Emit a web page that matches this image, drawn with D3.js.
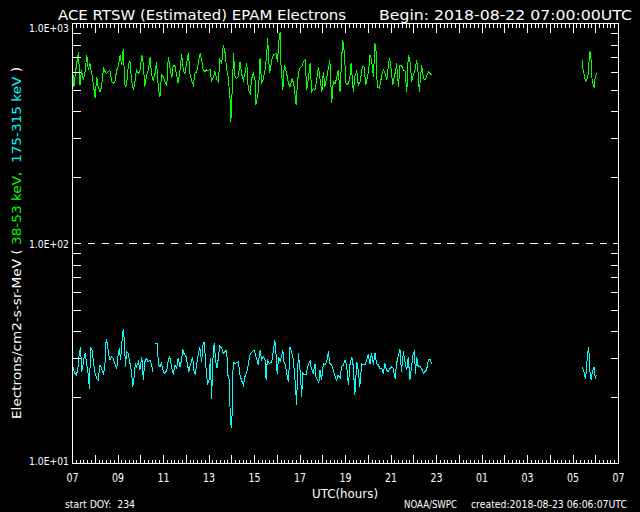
<!DOCTYPE html>
<html><head><meta charset="utf-8">
<script src="https://cdn.jsdelivr.net/npm/d3@7"></script>
<style>html,body{margin:0;padding:0;background:#000;}svg{display:block;}</style>
</head><body>
<svg id="chart" width="640" height="512"></svg>
<script>
// ---- data (time in minutes since 2018-08-22 07:00 UTC; null = gap) ----
const xTickValues = [0,120,240,360,480,600,720,840,960,1080,1200,1320,1440];
const xTickLabels = ["07","09","11","13","15","17","19","21","23","01","03","05","07"];
const yTickValues = [10,100,1000];
const yTickLabels = ["1.0E+01","1.0E+02","1.0E+03"];

const greenTime = [0,3,5,10,17,21,25,30,34,39,43,47,52,56,61,65,69,74,78,83,87,91,96,100,105,109,113,118,122,127,131,135,140,144,149,153,157,162,166,170,175,179,184,188,192,197,201,206,210,214,219,223,228,232,236,241,245,250,254,258,263,267,272,276,280,285,289,294,298,302,307,311,316,320,324,329,333,338,342,346,351,355,360,364,368,373,377,382,386,390,395,399,404,408,412,417,419,424,426,430,434,439,443,448,452,456,461,465,470,474,478,483,485,492,496,500,505,509,513,516,521,527,531,538,542,546,549,551,556,560,566,571,575,581,586,591,595,600,606,610,615,619,623,628,632,637,641,645,650,654,659,663,667,673,677,680,685,689,694,698,702,707,711,714,718,723,729,733,736,742,746,751,755,760,766,770,775,782,786,790,795,799,802,805,811,817,821,826,830,837,840,846,849,854,856,861,865,869,874,878,883,887,891,896,900,905,909,913,916,922,927,931,935,940,944,949,1000,1346,1348,1351,1354,1357,1362,1364,1366,1369,1372,1375,1377,1380,1384];
const greenFlux = [686,572,515,613,743,524,613,552,592,718,613,658,592,533,456,572,515,489,515,624,603,592,603,613,543,533,543,613,635,718,646,761,515,524,658,669,552,498,543,613,592,603,718,658,515,582,613,700,582,552,592,669,498,464,582,572,543,524,705,635,562,646,635,582,533,613,726,603,592,658,731,592,543,524,592,603,658,731,681,613,603,613,609,617,543,572,603,552,543,681,658,797,731,613,572,448,357,572,731,572,562,572,669,582,552,592,658,498,480,562,592,552,425,498,693,533,562,613,705,854,592,681,718,731,669,840,910,658,498,646,592,533,515,562,515,425,552,624,635,669,681,498,552,658,489,506,498,552,635,562,489,603,515,582,635,681,433,543,533,562,613,489,681,840,743,524,533,572,658,489,572,613,524,543,635,635,524,603,718,681,572,810,743,515,506,582,613,592,552,693,658,524,562,613,658,515,646,646,613,613,489,718,681,543,582,613,681,592,489,646,562,552,572,603,592,582,null,681,613,582,543,548,592,686,748,686,537,524,515,572,592];

const cyanTime = [0,3,8,12,17,19,23,25,28,32,35,39,42,46,49,53,56,60,65,69,74,78,83,87,90,93,97,100,105,109,113,118,122,125,128,132,135,138,141,144,148,153,157,160,163,167,170,175,179,184,188,192,197,201,206,210,213,216,220,225,228,232,236,241,245,250,254,258,263,267,272,276,280,285,289,292,295,301,304,308,311,316,318,322,325,329,333,337,342,345,348,351,355,358,361,365,368,373,375,380,383,387,390,395,399,403,408,411,415,417,420,423,425,430,434,439,443,447,452,456,461,465,468,471,476,480,484,489,491,496,500,505,509,512,515,520,527,531,535,538,541,545,549,552,556,559,563,566,571,575,579,584,586,590,592,597,601,606,608,612,617,623,628,630,636,641,643,648,651,654,658,663,667,672,676,680,685,689,694,698,702,707,711,716,720,724,729,733,738,742,746,751,755,759,764,768,773,777,781,786,790,795,799,803,808,812,817,821,825,830,834,839,843,847,852,856,861,865,869,874,878,883,887,891,896,900,903,906,909,913,918,922,927,931,935,940,944,949,1000,1346,1348,1351,1354,1356,1359,1362,1364,1367,1369,1372,1375,1377,1380,1383];
const cyanFlux = [30.5,27.0,25.6,25.2,28.0,31.6,33.7,26.1,27.0,30.5,31.6,28.0,26.1,21.7,33.9,32.7,29.5,26.1,24.3,23.9,28.0,27.0,25.2,28.4,36.6,35.1,31.1,29.5,30.5,30.0,28.4,27.0,31.6,33.3,29.5,36.3,40.6,36.3,27.5,32.2,31.6,28.4,26.1,22.3,23.9,28.4,27.5,28.9,26.5,30.5,24.0,28.9,30.0,28.9,29.5,28.0,26.1,null,34.9,35.1,28.0,27.5,28.4,26.1,25.6,26.5,29.5,30.5,27.0,25.6,28.0,27.0,30.0,27.5,29.5,33.0,31.6,30.5,28.4,26.1,27.5,29.5,30.5,26.1,25.2,28.4,31.1,33.7,28.9,34.1,35.7,31.6,24.7,23.1,23.5,30.0,19.7,33.9,34.5,28.4,27.0,31.6,34.1,33.3,31.6,32.2,32.7,25.2,23.9,17.2,14.4,17.5,28.9,28.4,28.7,28.9,25.2,23.9,22.7,24.7,26.1,28.0,30.5,31.6,32.2,32.7,31.1,28.9,28.0,32.7,29.5,30.5,29.5,23.9,29.5,28.4,28.9,32.7,36.3,31.6,25.6,30.5,28.9,30.5,32.7,28.9,28.0,25.6,23.5,33.9,32.2,29.5,26.5,21.9,18.4,31.6,27.0,20.1,26.1,25.2,25.2,28.0,29.3,27.5,25.6,28.4,24.7,23.9,23.1,26.5,23.9,28.4,28.0,28.9,32.2,28.4,28.0,26.5,24.7,23.9,25.2,24.3,27.5,28.0,29.5,28.0,22.7,28.0,30.5,27.5,20.4,28.9,26.5,22.3,28.4,28.0,28.0,29.5,31.1,28.4,31.8,28.0,31.8,28.4,28.0,27.0,27.0,25.6,28.4,26.5,26.1,27.0,27.5,27.0,24.3,28.4,31.1,33.0,26.1,32.2,28.9,26.5,30.5,23.9,28.0,31.6,32.2,25.6,30.5,27.5,27.5,27.0,25.6,26.1,26.5,29.5,29.7,28.4,null,27.3,26.8,25.8,24.3,25.7,30.5,33.7,31.1,24.3,24.1,25.7,26.8,27.5,24.3,25.2];

const titleLeft = "ACE RTSW (Estimated) EPAM Electrons";
const titleRight = "Begin: 2018-08-22 07:00:00UTC";
const xTitle = "UTC(hours)";
const footLeft = "start DOY:  234";
const footMid = "NOAA/SWPC";
const footRight = "created:2018-08-23 06:06:07UTC";
const GREEN = "#00ff00", CYAN = "#00ffff";

// ---- drawing ----
const svg = d3.select("#chart");
const FONT = "DejaVu Sans";
svg.append("rect").attr("width",640).attr("height",512).attr("fill","#000");

const x = d3.scaleLinear().domain([0,1440]).range([72,618]);
const y = d3.scaleLog().domain([10,1000]).range([463.3,23.3]);
const L = 72, R = 618, T = 23, B = 463;

// series
const line = d3.line()
  .defined(d => d[1] != null)
  .x(d => x(d[0])).y(d => y(d[1]));
function series(times, vals, col){
  const pts = times.map((t,i)=>[t, vals[i]]);
  svg.append("path").attr("d", line(pts)).attr("fill","none")
    .attr("stroke", col).attr("stroke-width",1).attr("shape-rendering","crispEdges");
}
series(greenTime, greenFlux, GREEN);
series(cyanTime, cyanFlux, CYAN);

// dashed reference line at 1.0E+02
svg.append("line").attr("x1",x(0)).attr("x2",x(1440))
  .attr("y1",Math.round(y(100))+0.5).attr("y2",Math.round(y(100))+0.5)
  .attr("stroke","#fff").attr("stroke-width",1).attr("stroke-dasharray","7.2 6.63")
  .attr("stroke-dashoffset",-2).attr("shape-rendering","crispEdges");

// axes (ticks pointing inward)
function styleAxis(g){
  g.select(".domain").remove();
  g.selectAll("line").attr("stroke","#fff").attr("shape-rendering","crispEdges");
  g.selectAll("text").remove();
}
const minorX = d3.range(0,1441,10).filter(m => m % 60 !== 0);
const majorX = d3.range(0,1441,60);
[[minorX,4],[majorX,9]].forEach(([vals,len])=>{
  svg.append("g").attr("transform",`translate(0,${T+0.5})`)
    .call(d3.axisTop(x).tickValues(vals).tickSizeInner(-len).tickSizeOuter(0)).call(styleAxis);
  svg.append("g").attr("transform",`translate(0,${B+0.5})`)
    .call(d3.axisBottom(x).tickValues(vals).tickSizeInner(-len).tickSizeOuter(0)).call(styleAxis);
});
const minorY = [];
[10,100].forEach(d => { for(let k=2;k<=9;k++) minorY.push(d*k); });
svg.append("g").attr("transform",`translate(${L+0.5},0)`)
  .call(d3.axisLeft(y).tickValues(minorY).tickSizeInner(-8).tickSizeOuter(0)).call(styleAxis);
svg.append("g").attr("transform",`translate(${R+0.5},0)`)
  .call(d3.axisRight(y).tickValues(minorY).tickSizeInner(-8).tickSizeOuter(0)).call(styleAxis);

// frame
svg.append("rect").attr("x",L+0.5).attr("y",T+0.5).attr("width",R-L).attr("height",B-T)
  .attr("fill","none").attr("stroke","#fff").attr("stroke-width",1).attr("shape-rendering","crispEdges");

// x tick labels
const xl = svg.append("g").attr("transform",`translate(0,${B})`)
  .call(d3.axisBottom(x).tickValues(xTickValues).tickFormat((d,i)=>xTickLabels[i]).tickSize(0).tickPadding(0));
xl.select(".domain").remove();
xl.selectAll("text").attr("y",19).attr("dy",null).attr("fill","#fff")
  .attr("font-family",FONT).attr("font-size",12.5)
  .attr("textLength",12).attr("lengthAdjust","spacingAndGlyphs");

// y tick labels
const yl = svg.append("g").attr("transform",`translate(${L},0)`)
  .call(d3.axisLeft(y).tickValues(yTickValues).tickFormat((d,i)=>yTickLabels[i]).tickSize(0).tickPadding(3));
yl.select(".domain").remove();
yl.selectAll("text").attr("fill","#fff").attr("font-family",FONT).attr("font-size",11)
  .attr("dy",null)
  .attr("y",d => { const p = y(d); return Math.min(Math.max(p+4.5, 31) , 464.5) - p; })
  .attr("textLength",40).attr("lengthAdjust","spacingAndGlyphs");

// titles
function txt(s, xx, yy, size, len, anchor, col){
  return svg.append("text").attr("x",xx).attr("y",yy).text(s)
    .attr("fill",col||"#fff").attr("font-family",FONT).attr("font-size",size)
    .attr("text-anchor",anchor||"start").style("white-space","pre")
    .attr("textLength",len).attr("lengthAdjust","spacingAndGlyphs");
}
txt(titleLeft, 58, 19.5, 14.5, 288);
txt(titleRight, 379, 19.5, 14.5, 253);
txt(xTitle, (L+R)/2, 498, 13, 66, "middle");
txt(footLeft, 65, 507.5, 10, 70);
txt(footMid, 404, 507.5, 10, 53);
txt(footRight, 471, 507.5, 10, 156);

// y title with coloured energy ranges
const yt = svg.append("text").attr("transform",`translate(20.5,${(T+B)/2}) rotate(-90)`)
  .attr("text-anchor","middle").attr("font-family",FONT).attr("font-size",12.5)
  .style("white-space","pre").attr("textLength",352).attr("lengthAdjust","spacingAndGlyphs");
yt.append("tspan").attr("fill","#fff").text("Electrons/cm2-s-sr-MeV ( ");
yt.append("tspan").attr("fill",GREEN).text("38-53 keV,");
yt.append("tspan").attr("fill","#fff").text("  ");
yt.append("tspan").attr("fill",CYAN).text("175-315 keV");
yt.append("tspan").attr("fill","#fff").text(" )");
</script>
</body></html>
